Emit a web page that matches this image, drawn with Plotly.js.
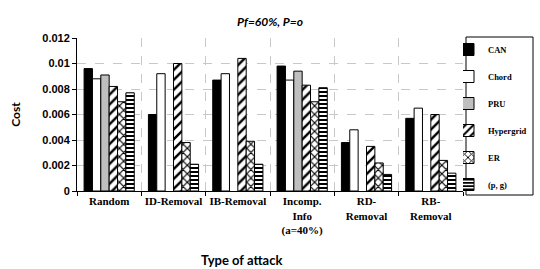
<!DOCTYPE html>
<html><head><meta charset="utf-8">
<script src="https://cdn.plot.ly/plotly-3.0.1.min.js"></script>
<style>html,body{margin:0;padding:0;background:#fff;overflow:hidden}#chart{width:540px;height:269px}</style>
</head><body><div id="chart"></div>
<script>
const categories = ["Random", "ID-Removal", "IB-Removal", "Incomp.<br>Info<br>(a=40%)", "RD-<br>Removal", "RB-<br>Removal"];
const seriesNames = ["CAN", "Chord", "PRU", "Hypergrid", "ER", "(p, g)"];
const CAN = [0.0096, 0.0060, 0.0087, 0.0098, 0.0038, 0.0057];
const Chord = [0.0088, 0.0092, 0.0092, 0.0087, 0.0048, 0.0065];
const PRU = [0.0091, null, null, 0.0094, null, null];
const Hypergrid = [0.0082, 0.0100, 0.0104, 0.0083, 0.0035, 0.0060];
const ER = [0.0070, 0.0038, 0.0039, 0.0070, 0.0022, 0.0024];
const PG = [0.0077, 0.0021, 0.0021, 0.0081, 0.0013, 0.0014];
const yTickVals = [0, 0.002, 0.004, 0.006, 0.008, 0.01, 0.012];
const yTickText = ["0", "0.002", "0.004", "0.006", "0.008", "0.01", "0.012"];
const titleText = "<i>Pf=60%, P=o</i>";
const xTitleText = "Type of attack";
const yTitleText = "Cost";

const values = [CAN, Chord, PRU, Hypergrid, ER, PG];
const styles = [
  {color: "#000000"},
  {color: "#ffffff"},
  {color: "#bfbfbf"},
  {color: "#ffffff", pattern: {shape: "/", fgcolor: "#000000", bgcolor: "#ffffff", size: 7, solidity: 0.35}},
  {color: "#ffffff", pattern: {shape: "x", fgcolor: "#000000", bgcolor: "#ffffff", size: 6, solidity: 0.35}},
  {color: "#ffffff", pattern: {shape: "-", fgcolor: "#000000", bgcolor: "#ffffff", size: 4, solidity: 0.5}}
];

const traces = seriesNames.map((n, i) => ({
  type: "bar",
  name: n,
  legendgroup: n,
  x: categories,
  y: values[i],
  marker: Object.assign({line: {color: "#000000", width: 1}}, styles[i]),
  hoverinfo: "x+y+name"
}));

const serif = "Liberation Serif";
const sans = "Liberation Sans";
const cal = "Lato";

// pixel helpers for paper coordinates (plot area: x 77..463, y 38..191)
const px = v => (v - 77) / 386;
const py = v => (191 - v) / 153;

const layout = {
  width: 540, height: 269,
  margin: {l: 77, r: 77, t: 38, b: 78, pad: 0, autoexpand: false},
  paper_bgcolor: "#ffffff", plot_bgcolor: "#ffffff",
  barmode: "group", bargap: 0.22, bargroupgap: 0,
  showlegend: true,
  title: {text: titleText, font: {family: cal, size: 12, color: "#000", weight: "bold"}, x: 0.5, xref: "paper", xanchor: "center", y: 0.935, yref: "container"},
  xaxis: {
    type: "category",
    tickson: "boundaries",
    ticks: "outside", ticklen: 4, tickcolor: "#000",
    tickangle: 0,
    showline: true, linecolor: "#000", linewidth: 1,
    showgrid: true, gridcolor: "#c8c8c8", griddash: "dash", gridwidth: 1,
    tickfont: {family: serif, size: 11, color: "#000", weight: "bold"},
    automargin: false, fixedrange: true
  },
  xaxis2: {
    overlaying: "x", anchor: "y", side: "top",
    range: [-0.5, 5.5], tickvals: [0, 1, 2, 3, 4, 5],
    showticklabels: false, ticks: "",
    showgrid: true, gridcolor: "#c8c8c8", griddash: "dash", gridwidth: 1,
    showline: true, linecolor: "#808080", linewidth: 1.5,
    zeroline: false, fixedrange: true
  },
  yaxis: {
    range: [0, 0.012],
    tickvals: yTickVals, ticktext: yTickText,
    ticks: "outside", ticklen: 4, tickcolor: "#000",
    showline: true, linecolor: "#000", linewidth: 1,
    showgrid: true, gridcolor: "#c8c8c8", griddash: "dash", gridwidth: 1,
    zeroline: false,
    tickfont: {family: sans, size: 11, color: "#000", weight: "bold"},
    title: {text: yTitleText, font: {family: cal, size: 12, color: "#000", weight: "bold"}, standoff: 19},
    automargin: false, fixedrange: true
  },
  yaxis2: {
    overlaying: "y", anchor: "x", side: "right",
    range: [0, 0.012], showticklabels: false, ticks: "", showgrid: false,
    showline: true, linecolor: "#808080", linewidth: 1.5, zeroline: false, fixedrange: true
  },
  legend: {
    x: px(463), xanchor: "left", y: py(35), yanchor: "top",
    borderwidth: 0, bgcolor: "rgba(0,0,0,0)",
    font: {family: serif, size: 8.5, color: "#000", weight: "bold"},
    traceorder: "grouped", tracegroupgap: 8, itemwidth: 30,
    indentation: -15, maxheight: 230
  },
  shapes: [{
    type: "rect", xref: "paper", yref: "paper",
    x0: px(466), x1: px(533), y0: py(195), y1: py(37),
    line: {color: "#000", width: 1}, fillcolor: "rgba(0,0,0,0)", layer: "below"
  }],
  annotations: [{
    text: xTitleText, xref: "paper", yref: "paper", x: px(241), y: py(260),
    xanchor: "center", yanchor: "middle", showarrow: false,
    font: {family: cal, size: 13, color: "#000", weight: "bold"}
  }]
};

Plotly.newPlot("chart", traces, layout, {staticPlot: true, displayModeBar: false});
</script></body></html>
